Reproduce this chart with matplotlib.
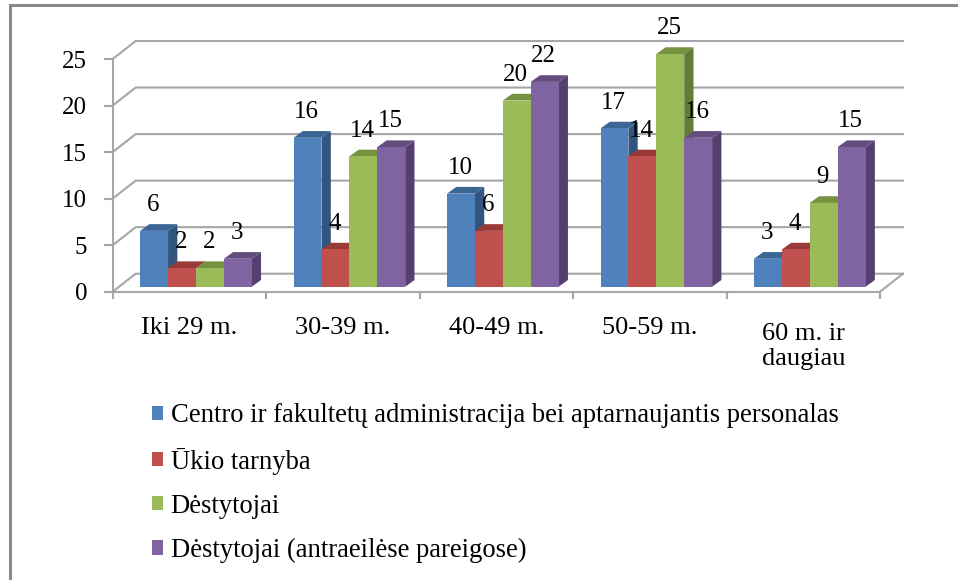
import matplotlib
matplotlib.use("Agg")
import matplotlib.pyplot as plt
from matplotlib.lines import Line2D
from matplotlib.patches import Patch, Polygon

categories = ["Iki 29 m.", "30-39 m.", "40-49 m.", "50-59 m.", "60 m. ir\ndaugiau"]
administracija = [6, 16, 10, 17, 3]
ukio_tarnyba = [2, 4, 6, 14, 4]
destytojai = [2, 14, 20, 25, 9]
destytojai_antraeiles = [3, 15, 22, 16, 15]
series_names = [
    "Centro ir fakultetų administracija bei aptarnaujantis personalas",
    "Ūkio tarnyba",
    "Dėstytojai",
    "Dėstytojai (antraeilėse pareigose)",
]
series_values = [administracija, ukio_tarnyba, destytojai, destytojai_antraeiles]
front_colors = ["#4F81BD", "#C0504D", "#9BBB59", "#8064A2"]
top_colors = ["#3A6595", "#983A38", "#76913F", "#644E80"]
side_colors = ["#32557F", "#7F3230", "#657C36", "#553F70"]
y_ticks = [0, 5, 10, 15, 20, 25]

W, H = 958, 580
plt.rcParams["font.family"] = ["Liberation Serif", "DejaVu Serif"]
fig = plt.figure(figsize=(W / 100, H / 100), dpi=100, facecolor="white")
px_left, px_right, px_top, px_bottom = 112.7, 880.0, 59.0, 291.7
ax = fig.add_axes([px_left / W, 1 - px_bottom / H, (px_right - px_left) / W, (px_bottom - px_top) / H])
ax.set_xlim(0, len(categories))
ax.set_ylim(0, 25)
ax.patch.set_alpha(0)
for s in ax.spines.values():
    s.set_visible(False)

# outer frame: only the top and left edges fall inside the picture
frame = "#8A8A8A"
fig.add_artist(Line2D([9.5 / W, 9.5 / W, 1], [0, 1 - 4.5 / H, 1 - 4.5 / H], color=frame, lw=2.2,
                      transform=fig.transFigure, solid_joinstyle="miter"))

px_x = (px_right - px_left) / len(categories)
px_y = (px_bottom - px_top) / 25
wall_dx, wall_dy = 23 / px_x, 18 / px_y
bar_dx, bar_dy = 9.3 / px_x, 6.7 / px_y
bar_w = 27.9 / px_x
base = 5 / px_y
group_shift = 6.5 / px_x
grid = "#A6A6A6"
lw = 1.5

for v in y_ticks:
    ax.plot([0, wall_dx, len(categories) + wall_dx], [v, v + wall_dy, v + wall_dy],
            color=grid, lw=lw, clip_on=False, zorder=1, solid_joinstyle="miter")
ax.plot([len(categories), len(categories) + wall_dx], [0, wall_dy], color=grid, lw=lw, clip_on=False, zorder=1)
ax.plot([0, 0], [0, 25], color=grid, lw=lw, clip_on=False, zorder=1)
ax.plot([0, len(categories)], [0, 0], color=grid, lw=lw, clip_on=False, zorder=1)

ax.set_xticks(range(len(categories) + 1))
ax.set_xticklabels([])
ax.set_yticks(y_ticks)
ax.tick_params(axis="x", color=grid, width=lw, length=5)
ax.tick_params(axis="y", color=grid, width=lw, length=6.5, labelsize=18, pad=12, labelcolor="black")

z = 2.0
for g in range(len(categories)):
    left = g + 0.5 + group_shift - 2 * bar_w
    for i, vals in enumerate(series_values):
        v = vals[g]
        x0 = left + i * bar_w
        x1 = x0 + bar_w
        y1 = base + v
        ax.add_patch(Polygon([(x1, base), (x1 + bar_dx, base + bar_dy), (x1 + bar_dx, y1 + bar_dy), (x1, y1)],
                             fc=side_colors[i], ec="none", zorder=z, clip_on=False))
        ax.add_patch(Polygon([(x0, y1), (x0 + bar_dx, y1 + bar_dy), (x1 + bar_dx, y1 + bar_dy), (x1, y1)],
                             fc=top_colors[i], ec="none", zorder=z, clip_on=False))
        ax.bar(x0, v, bar_w, bottom=base, align="edge", color=front_colors[i], zorder=z + 0.1, clip_on=False)
        z += 0.2
        ax.annotate(str(v), (x0 + bar_w / 2, y1), xytext=(-0.7, 18.6), textcoords="offset points",
                    ha="center", va="center", fontsize=18, color="black", zorder=50, annotation_clip=False)

for g, label in enumerate(categories):
    top_px = 317 if "\n" not in label else 323
    fig.text((px_left + (g + 0.5) * px_x) / W, 1 - top_px / H, label, ha="center", va="top",
             fontsize=19, color="black", linespacing=1.2)

handles = [Patch(fc=c, ec="none") for c in front_colors]
fig.legend(handles, series_names, loc="upper left", bbox_to_anchor=(151.5 / W, 1 - 403.5 / H), bbox_transform=fig.transFigure,
           frameon=False, fontsize=19.15, handlelength=0.45, handleheight=0.45, handletextpad=0.27,
           labelspacing=0.72, borderpad=0, borderaxespad=0)

fig.savefig("out.png", dpi=100)
